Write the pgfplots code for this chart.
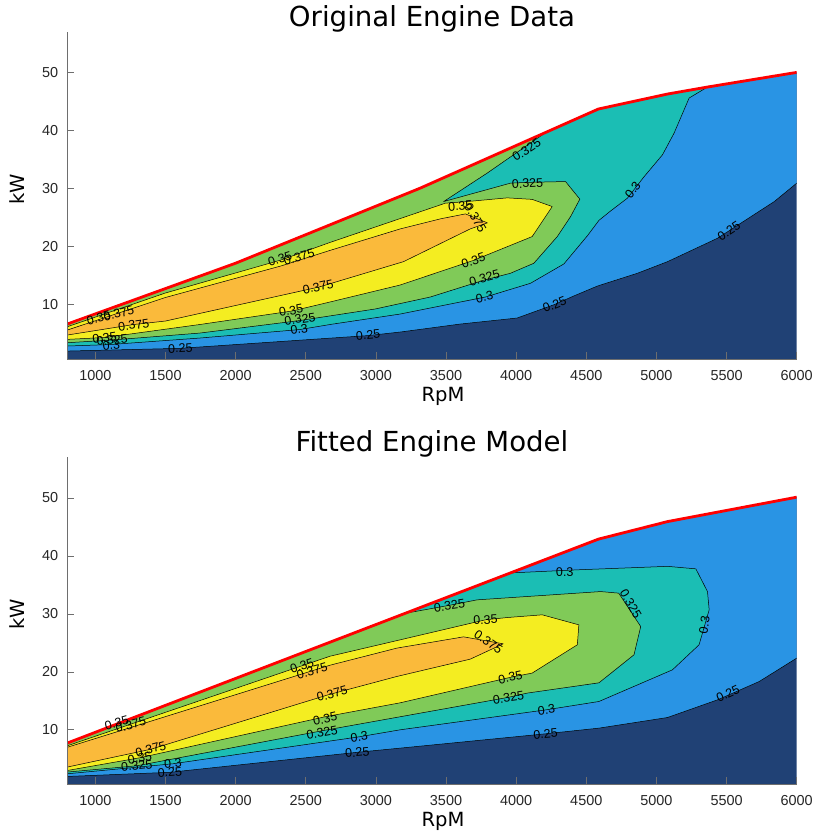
\documentclass[border=0pt]{standalone}
\usepackage{fontspec}
\setmainfont{Liberation Sans}
\newfontfamily\dejavu{DejaVu Sans}
\usepackage{pgfplots}
\pgfplotsset{compat=1.18}
\definecolor{cdark}{RGB}{32,65,117}
\definecolor{cblue}{RGB}{41,148,228}
\definecolor{cteal}{RGB}{27,190,180}
\definecolor{cgreen}{RGB}{128,202,88}
\definecolor{cyellow}{RGB}{244,237,33}
\definecolor{corange}{RGB}{250,186,59}
\definecolor{axgray}{RGB}{110,110,110}
\definecolor{tickgray}{RGB}{38,38,38}
\pgfplotsset{
  enginemap/.style={
    scale only axis, width=729.4bp, height=326.7bp,
    xmin=800, xmax=6000, ymax=57,
    axis lines*=left, axis on top,
    axis line style={-, draw=axgray, line width=0.6bp},
    tick align=inside, major tick length=7bp,
    tick style={draw=axgray, line width=0.6bp},
    xtick={1000,1500,2000,2500,3000,3500,4000,4500,5000,5500,6000},
    ytick={10,20,30,40,50},
    scaled ticks=false,
    /pgf/number format/1000 sep={},
    /pgf/number format/assume math mode=true,
    ticklabel style={font=\fontsize{14.5}{16}\selectfont, text=tickgray},
    xticklabel style={anchor=north, inner sep=0pt, yshift=-11bp},
    yticklabel style={anchor=east, inner sep=0pt, xshift=-9bp},
    every axis title shift=0pt,
    title style={font=\dejavu\fontsize{27.7}{30}\selectfont, anchor=base, at={(axis description cs:0.5,1.018)}, inner sep=0pt, yshift=0pt},
    xlabel style={font=\dejavu\fontsize{19.6}{22}\selectfont, anchor=base, at={(axis description cs:0.515,-0.1307)}, inner sep=0pt},
    ylabel style={font=\dejavu\fontsize{19.6}{22}\selectfont, anchor=base, at={(axis description cs:-0.058,0.52)}, inner sep=0pt},
    xlabel={RpM}, ylabel={kW},
    no markers,
  },
  cline/.style={draw=black, line width=0.5bp, line join=round},
  redline/.style={draw=red, line width=2.8bp, line join=round, line cap=round},
}
\tikzset{clab/.style={font=\fontsize{12.5}{14}\selectfont, inner sep=0pt, text=black}}
\begin{document}
\begin{tikzpicture}
\useasboundingbox (0,0) rectangle (813bp,838bp);
% ---------------- TOP ----------------
\begin{axis}[enginemap, at={(67.3bp,479bp)}, anchor=south west, ymin=0.55, title={Original Engine Data}]
\addplot[fill=cdark, draw=none] coordinates {(800,0.55) (800,6.59) (2000,17.1) (3316,30.07) (4586,43.74) (5079,46.33) (5364,47.54) (6000,50.07) (6000,0.55)} -- cycle;
\addplot[fill=cblue, draw=none] coordinates {(800,1.92) (1602,2.39) (2945,4.60) (3174,5.21) (3602,6.59) (4007,7.63) (4274,9.97) (4411,11.44) (4581,13.17) (4864,15.36) (5079,17.37) (5436,21.42) (5840,27.75) (6000,30.93) (6000,50.07) (5364,47.54) (5079,46.33) (4586,43.74) (3316,30.07) (2000,17.1) (800,6.59)} -- cycle;
\addplot[fill=cteal, draw=none] coordinates {(800,2.79) (1102,3.04) (1745,4.17) (2459,5.64) (2673,6.51) (3174,8.32) (3781,11.26) (4102,13.63) (4340,16.97) (4507,21.82) (4590,24.50) (4674,26.14) (4793,28.34) (4911,32.02) (5043,35.83) (5126,39.58) (5233,45.64) (5364,47.54) (5079,46.33) (4586,43.74) (3316,30.07) (2000,17.1) (800,6.59)} -- cycle;
\addplot[fill=cgreen, draw=none] coordinates {(800,3.36) (1116,3.82) (1745,5.03) (2459,7.20) (2995,9.19) (3388,11.26) (3774,14.20) (3959,15.36) (4126,17.09) (4293,21.70) (4388,25.16) (4454,28.17) (4352,31.21) (4081,31.07) (3959,30.93) (3483,27.75) (3793,32.66) (4221,39.86) (3316,30.07) (2000,17.1) (800,6.59)} -- cycle;
\addplot[fill=cyellow, draw=none] coordinates {(800,3.94) (1066,4.26) (1745,6.51) (2402,8.84) (2673,10.40) (3174,13.34) (3695,17.58) (4114,21.70) (4257,26.89) (4114,28.13) (3936,28.39) (3650,27.75) (3495,27.47) (2673,20.69) (2324,17.66) (1500,11.96) (800,6.12)} -- cycle;
\addplot[fill=corange, draw=none] coordinates {(800,4.69) (1274,6.51) (1500,7.11) (2595,12.99) (3197,17.37) (3673,23.03) (3795,24.07) (3638,25.62) (3459,24.76) (3174,23.03) (2673,19.31) (2324,16.63) (1500,11.18) (800,5.55)} -- cycle;
% contour lines
\addplot[cline] coordinates {(800,1.92) (1602,2.39) (2945,4.60) (3174,5.21) (3602,6.59) (4007,7.63) (4274,9.97) (4411,11.44) (4581,13.17) (4864,15.36) (5079,17.37) (5436,21.42) (5840,27.75) (6000,30.93)};
\addplot[cline] coordinates {(800,2.79) (1102,3.04) (1745,4.17) (2459,5.64) (2673,6.51) (3174,8.32) (3781,11.26) (4102,13.63) (4340,16.97) (4507,21.82) (4590,24.50) (4674,26.14) (4793,28.34) (4911,32.02) (5043,35.83) (5126,39.58) (5233,45.64) (5364,47.54)};
\addplot[cline] coordinates {(800,3.36) (1116,3.82) (1745,5.03) (2459,7.20) (2995,9.19) (3388,11.26) (3774,14.20) (3959,15.36) (4126,17.09) (4293,21.70) (4388,25.16) (4454,28.17) (4352,31.21) (4081,31.07) (3959,30.93) (3483,27.75) (3793,32.66) (4221,39.86)};
\addplot[cline] coordinates {(800,3.94) (1066,4.26) (1745,6.51) (2402,8.84) (2673,10.40) (3174,13.34) (3695,17.58) (4114,21.70) (4257,26.89) (4114,28.13) (3936,28.39) (3650,27.75) (3495,27.47) (2673,20.69) (2324,17.66) (1500,11.96) (800,6.12)};
\addplot[cline] coordinates {(800,4.69) (1274,6.51) (1500,7.11) (2595,12.99) (3197,17.37) (3673,23.03) (3795,24.07) (3638,25.62) (3459,24.76) (3174,23.03) (2673,19.31) (2324,16.63) (1500,11.18) (800,5.55)};
\addplot[redline] coordinates {(800,6.59) (2000,17.1) (3316,30.07) (4586,43.74) (5079,46.33) (5364,47.54) (6000,50.07)};
% labels
\node[clab, rotate=3] at (axis cs:1606,2.39) {0.25};
\node[clab, rotate=5] at (axis cs:2945,4.69) {0.25};
\node[clab, rotate=21] at (axis cs:4274,9.97) {0.25};
\node[clab, rotate=33] at (axis cs:5517,22.68) {0.25};
\node[clab, rotate=5] at (axis cs:1114,2.96) {0.3};
\node[clab, rotate=7] at (axis cs:2453,5.73) {0.3};
\node[clab, rotate=12] at (axis cs:3774,11.26) {0.3};
\node[clab, rotate=52] at (axis cs:4831,29.78) {0.3};
\node[clab, rotate=6] at (axis cs:1120,3.82) {0.325};
\node[clab, rotate=8] at (axis cs:2459,7.46) {0.325};
\node[clab, rotate=15] at (axis cs:3774,14.55) {0.325};
\node[clab, rotate=3] at (axis cs:4081,30.9) {0.325};
\node[clab, rotate=33] at (axis cs:4074,36.7) {0.325};
\node[clab, rotate=8] at (axis cs:1066,4.26) {0.35};
\node[clab, rotate=10] at (axis cs:2395,8.93) {0.35};
\node[clab, rotate=18] at (axis cs:3695,17.58) {0.35};
\node[clab, rotate=5] at (axis cs:3602,27.0) {0.35};
\node[clab, rotate=17] at (axis cs:2316,17.84) {0.35};
\node[clab, rotate=15] at (axis cs:2453,18.18) {0.375};
\node[clab, rotate=12] at (axis cs:2588,12.99) {0.375};
\node[clab, rotate=-60] at (axis cs:3710,24.93) {0.375};
\node[clab, rotate=8] at (axis cs:1274,6.42) {0.375};
\node[clab, rotate=15] at (axis cs:1024,7.63) {0.35};
\node[clab, rotate=15] at (axis cs:1167,8.41) {0.375};
\end{axis}
% ---------------- BOTTOM ----------------
\begin{axis}[enginemap, at={(67.3bp,54bp)}, anchor=south west, ymin=0.65, title={Fitted Engine Model}]
\addplot[fill=cdark, draw=none] coordinates {(800,0.65) (800,7.71) (4586,42.88) (5079,45.91) (6000,50.12) (6000,0.65)} -- cycle;
\addplot[fill=cblue, draw=none] coordinates {(800,1.95) (1532,2.67) (2867,6.12) (3174,6.84) (4210,9.31) (4591,10.29) (5079,12.12) (5436,15.17) (5733,18.33) (6000,22.36) (6000,50.12) (5079,45.91) (4586,42.88) (800,7.71)} -- cycle;
\addplot[fill=cteal, draw=none] coordinates {(800,2.41) (1553,4.14) (2881,8.79) (3174,10.0) (4216,13.45) (4590,14.88) (5114,20.34) (5304,24.66) (5376,30.69) (5364,33.84) (5281,37.76) (5079,38.19) (4436,37.59) (3970,37.07) (800,7.71)} -- cycle;
\addplot[fill=cgreen, draw=none] coordinates {(800,2.71) (1295,3.79) (2616,9.83) (3945,15.60) (4079,16.33) (4590,18.10) (4840,22.93) (4888,27.81) (4731,33.57) (4602,33.84) (3721,32.41) (3524,31.47) (3209,30.09) (800,7.71)} -- cycle;
\addplot[fill=cyellow, draw=none] coordinates {(800,2.98) (1316,5.17) (2637,12.24) (3174,14.66) (3959,19.05) (4114,19.78) (4436,24.66) (4447,28.10) (4186,29.83) (3936,29.36) (3781,28.97) (3174,25.52) (2673,22.69) (800,7.24)} -- cycle;
\addplot[fill=corange, draw=none] coordinates {(800,3.57) (1395,6.64) (2659,16.03) (3148,19.19) (3673,22.19) (3908,24.83) (3625,26.03) (3150,24.09) (2673,21.14) (800,6.98)} -- cycle;
% contour lines
\addplot[cline] coordinates {(800,1.95) (1532,2.67) (2867,6.12) (3174,6.84) (4210,9.31) (4591,10.29) (5079,12.12) (5436,15.17) (5733,18.33) (6000,22.36)};
\addplot[cline] coordinates {(800,2.41) (1553,4.14) (2881,8.79) (3174,10.0) (4216,13.45) (4590,14.88) (5114,20.34) (5304,24.66) (5376,30.69) (5364,33.84) (5281,37.76) (5079,38.19) (4436,37.59) (3970,37.07)};
\addplot[cline] coordinates {(800,2.71) (1295,3.79) (2616,9.83) (3945,15.60) (4079,16.33) (4590,18.10) (4840,22.93) (4888,27.81) (4731,33.57) (4602,33.84) (3721,32.41) (3524,31.47) (3209,30.09)};
\addplot[cline] coordinates {(800,2.98) (1316,5.17) (2637,12.24) (3174,14.66) (3959,19.05) (4114,19.78) (4436,24.66) (4447,28.10) (4186,29.83) (3936,29.36) (3781,28.97) (3174,25.52) (2673,22.69) (800,7.24)};
\addplot[cline] coordinates {(800,3.57) (1395,6.64) (2659,16.03) (3148,19.19) (3673,22.19) (3908,24.83) (3625,26.03) (3150,24.09) (2673,21.14) (800,6.98)};
\addplot[redline] coordinates {(800,7.71) (4586,42.88) (5079,45.91) (6000,50.12)};
% labels
\node[clab, rotate=4] at (axis cs:1531,2.67) {0.25};
\node[clab, rotate=5] at (axis cs:2867,6.12) {0.25};
\node[clab, rotate=5] at (axis cs:4209,9.31) {0.25};
\node[clab, rotate=25] at (axis cs:5510,16.21) {0.25};
\node[clab, rotate=5] at (axis cs:1553,4.14) {0.3};
\node[clab, rotate=7] at (axis cs:2881,8.79) {0.3};
\node[clab, rotate=7] at (axis cs:4216,13.45) {0.3};
\node[clab, rotate=82] at (axis cs:5341,28.1) {0.3};
\node[clab, rotate=2] at (axis cs:4346,37.24) {0.3};
\node[clab, rotate=6] at (axis cs:1295,3.79) {0.325};
\node[clab, rotate=10] at (axis cs:2616,9.48) {0.325};
\node[clab, rotate=8] at (axis cs:3945,15.52) {0.325};
\node[clab, rotate=8] at (axis cs:3524,31.38) {0.325};
\node[clab, rotate=-60] at (axis cs:4817,31.72) {0.325};
\node[clab, rotate=10] at (axis cs:1317,5.17) {0.35};
\node[clab, rotate=12] at (axis cs:2638,11.9) {0.35};
\node[clab, rotate=12] at (axis cs:3959,19.05) {0.35};
\node[clab, rotate=3] at (axis cs:3781,28.97) {0.35};
\node[clab, rotate=18] at (axis cs:2473,21.03) {0.35};
\node[clab, rotate=15] at (axis cs:2545,20.17) {0.375};
\node[clab, rotate=15] at (axis cs:2688,16.21) {0.375};
\node[clab, rotate=15] at (axis cs:1395,6.64) {0.375};
\node[clab, rotate=15] at (axis cs:1152,11.2) {0.35};
\node[clab, rotate=15] at (axis cs:1252,10.86) {0.375};
\node[clab, rotate=-35] at (axis cs:3802,25.17) {0.375};
\end{axis}
\end{tikzpicture}
\end{document}
